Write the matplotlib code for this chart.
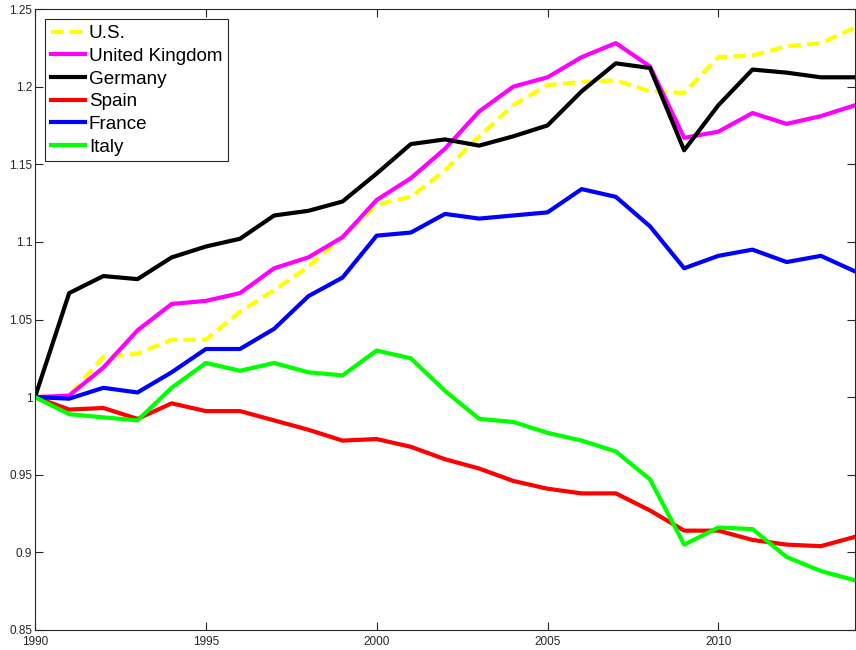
import numpy as np
import matplotlib
matplotlib.use('Agg')
import matplotlib.pyplot as plt
from matplotlib.ticker import FuncFormatter

plt.rcParams['font.family'] = ['Liberation Sans', 'DejaVu Sans']

# Index (1990 = 1) by country
years = list(range(1990, 2015))
us = [1.0, 1.001, 1.026, 1.028, 1.037, 1.037, 1.055, 1.069, 1.084, 1.103,
      1.124, 1.129, 1.146, 1.168, 1.188, 1.201, 1.203, 1.204, 1.197, 1.196,
      1.219, 1.220, 1.226, 1.228, 1.238]
uk = [1.0, 1.001, 1.019, 1.043, 1.060, 1.062, 1.067, 1.083, 1.090, 1.103,
      1.127, 1.141, 1.160, 1.184, 1.200, 1.206, 1.219, 1.228, 1.213, 1.167,
      1.171, 1.183, 1.176, 1.181, 1.188]
germany = [1.0, 1.067, 1.078, 1.076, 1.090, 1.097, 1.102, 1.117, 1.120, 1.126,
           1.144, 1.163, 1.166, 1.162, 1.168, 1.175, 1.197, 1.215, 1.212, 1.159,
           1.188, 1.211, 1.209, 1.206, 1.206]
spain = [1.0, 0.992, 0.993, 0.986, 0.996, 0.991, 0.991, 0.985, 0.979, 0.972,
         0.973, 0.968, 0.960, 0.954, 0.946, 0.941, 0.938, 0.938, 0.927, 0.914,
         0.914, 0.908, 0.905, 0.904, 0.910]
france = [1.0, 0.999, 1.006, 1.003, 1.016, 1.031, 1.031, 1.044, 1.065, 1.077,
          1.104, 1.106, 1.118, 1.115, 1.117, 1.119, 1.134, 1.129, 1.110, 1.083,
          1.091, 1.095, 1.087, 1.091, 1.081]
italy = [1.0, 0.989, 0.987, 0.985, 1.006, 1.022, 1.017, 1.022, 1.016, 1.014,
         1.030, 1.025, 1.004, 0.986, 0.984, 0.977, 0.972, 0.965, 0.947, 0.905,
         0.916, 0.915, 0.897, 0.888, 0.882]

labels = ['U.S.', 'United Kingdom', 'Germany', 'Spain', 'France', 'Italy']
series = [us, uk, germany, spain, france, italy]
colors = ['#ffff00', '#ff00ff', '#000000', '#ff0000', '#0000ff', '#00ff00']

fig = plt.figure(figsize=(8.56, 6.5), dpi=100)
ax = fig.add_axes([35 / 856, 20 / 650, 820 / 856, 621 / 650])

for lab, vals, col in zip(labels, series, colors):
    if lab == 'U.S.':
        ax.plot(years, vals, color=col, lw=3, dashes=(3, 1.5), label=lab)
    else:
        ax.plot(years, vals, color=col, lw=3, label=lab)

ax.set_xlim(1990, 2014)
ax.set_ylim(0.85, 1.25)
ax.set_xticks([1990, 1995, 2000, 2005, 2010])
ax.set_yticks(np.arange(0.85, 1.2501, 0.05))
ax.yaxis.set_major_formatter(FuncFormatter(lambda v, p: f'{v:g}'))
ax.tick_params(direction='in', top=True, right=True, length=6, width=0.8,
               labelsize=8.5, colors='#262626')
ax.tick_params(axis='x', pad=4)
ax.tick_params(axis='y', pad=2)
for s in ax.spines.values():
    s.set_color('#262626')
    s.set_linewidth(0.8)

leg = ax.legend(loc='upper left', fontsize=13.6, handlelength=1.8,
                handletextpad=0.2, labelspacing=0.29, borderpad=0.3,
                fancybox=False, framealpha=1, edgecolor='#262626',
                borderaxespad=0.55)
leg.get_frame().set_linewidth(0.8)

fig.savefig('out.png', dpi=100)
